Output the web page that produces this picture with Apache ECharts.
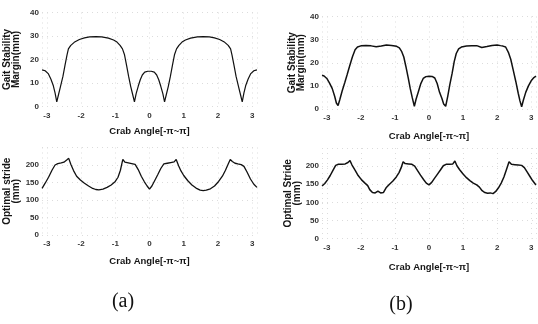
<!DOCTYPE html>
<html>
<head>
<meta charset="utf-8">
<script src="https://cdn.jsdelivr.net/npm/echarts@6/dist/echarts.min.js"></script>
<style>
  html, body { margin: 0; padding: 0; background: #fff; }
  #chart { width: 538px; height: 324px; }
</style>
</head>
<body>
<div id="chart"></div>
<script>
// (a) gait stability margin vs crab angle
var gaitAngleA = [-3.14,-3.05,-2.96,-2.88,-2.81,-2.76,-2.71,-2.66,-2.6,-2.53,-2.47,-2.41,-2.37,-2.3,-2.2,-2.05,-1.9,-1.75,-1.57,-1.4,-1.2,-1.05,-0.95,-0.86,-0.79,-0.73,-0.67,-0.61,-0.55,-0.49,-0.44,-0.39,-0.33,-0.27,-0.21,-0.14,-0.05,0.05,0.14,0.21,0.27,0.33,0.39,0.44,0.49,0.55,0.61,0.67,0.73,0.79,0.86,0.95,1.05,1.2,1.4,1.57,1.75,1.9,2.05,2.2,2.3,2.37,2.41,2.47,2.53,2.6,2.66,2.71,2.76,2.81,2.88,2.96,3.05,3.14];
var gaitMarginA = [15.6,15.2,14.0,11.6,8.8,5.8,2.0,5.0,8.6,12.8,17.5,22.0,24.5,26.0,27.3,28.5,29.2,29.6,29.7,29.6,29.1,28.3,27.4,26.0,24.5,22.0,17.5,12.8,8.6,5.0,2.0,5.5,8.6,11.4,13.4,14.6,15.0,15.0,14.6,13.4,11.4,8.6,5.5,2.0,5.0,8.6,12.8,17.5,22.0,24.5,26.0,27.4,28.3,29.1,29.6,29.7,29.6,29.2,28.5,27.3,26.0,24.5,22.0,17.5,12.8,8.6,5.0,2.0,5.8,8.8,11.6,14.0,15.2,15.6];

// (b) gait stability margin vs crab angle
var gaitAngleB = [-3.14,-3.08,-3.0,-2.92,-2.84,-2.77,-2.72,-2.67,-2.62,-2.55,-2.47,-2.4,-2.33,-2.25,-2.17,-2.1,-2.0,-1.85,-1.7,-1.55,-1.4,-1.25,-1.1,-0.95,-0.87,-0.8,-0.74,-0.68,-0.61,-0.55,-0.49,-0.43,-0.38,-0.31,-0.24,-0.17,-0.09,0,0.09,0.17,0.24,0.31,0.38,0.43,0.49,0.55,0.61,0.68,0.74,0.8,0.87,0.95,1.1,1.25,1.4,1.55,1.7,1.85,2.0,2.1,2.17,2.25,2.33,2.4,2.47,2.55,2.62,2.67,2.72,2.77,2.84,2.92,3.0,3.08,3.14];
var gaitMarginB = [14.6,14.3,13.2,11.2,8.8,5.5,2.6,1.5,4.0,7.8,11.6,15.0,18.6,22.5,25.6,26.8,27.3,27.5,27.3,26.9,27.2,27.7,27.5,27.1,26.4,24.8,22.5,18.5,13.5,8.8,4.8,1.2,4.2,7.6,11.0,13.2,14.0,14.2,14.1,13.4,11.0,7.2,4.5,2.2,1.2,5.5,10.4,15.5,20.5,24.0,26.0,26.8,27.2,27.3,27.4,26.6,27.0,27.5,27.7,27.4,27.2,26.8,24.5,21.5,17.0,11.8,6.8,3.5,1.0,3.8,7.2,10.0,12.2,13.6,14.2];

// (a) optimal stride vs crab angle
var strideAngleA = [-3.14,-3.05,-2.95,-2.85,-2.76,-2.68,-2.58,-2.5,-2.42,-2.36,-2.3,-2.22,-2.13,-2.02,-1.9,-1.78,-1.66,-1.57,-1.48,-1.36,-1.24,-1.12,-1.0,-0.92,-0.85,-0.78,-0.72,-0.62,-0.52,-0.42,-0.33,-0.24,-0.15,-0.07,0,0.07,0.15,0.24,0.33,0.42,0.52,0.62,0.72,0.78,0.85,0.92,1.0,1.12,1.24,1.36,1.48,1.57,1.66,1.78,1.9,2.02,2.13,2.22,2.3,2.36,2.42,2.5,2.58,2.68,2.76,2.85,2.95,3.05,3.14];
var strideA = [133,148,165,185,200,204,206,208,214,219,202,184,168,157,148,140,133,130,129,131,136,143,153,165,185,216,208,206,204,202,187,168,152,140,131,140,155,172,190,203,205,207,209,216,198,183,170,155,143,134,128,127,128,132,140,153,168,185,203,216,210,205,203,201,196,180,160,145,136];

// (b) optimal stride vs crab angle
var strideAngleB = [-3.14,-3.06,-2.98,-2.9,-2.82,-2.74,-2.66,-2.56,-2.46,-2.38,-2.32,-2.26,-2.18,-2.08,-1.98,-1.88,-1.8,-1.74,-1.66,-1.58,-1.5,-1.42,-1.34,-1.26,-1.16,-1.06,-0.96,-0.88,-0.82,-0.76,-0.7,-0.6,-0.5,-0.42,-0.34,-0.25,-0.16,-0.08,0,0.08,0.16,0.25,0.34,0.42,0.5,0.6,0.7,0.76,0.82,0.9,1.0,1.1,1.2,1.3,1.4,1.48,1.56,1.64,1.72,1.8,1.88,1.96,2.04,2.12,2.2,2.28,2.35,2.42,2.52,2.62,2.72,2.8,2.88,2.96,3.04,3.14];
var strideB = [145,152,162,174,188,202,205,205,206,210,215,203,190,174,162,153,146,135,127,126,131,126,127,140,150,159,170,182,195,212,207,206,205,200,188,175,163,153,148,155,166,178,190,201,205,205,206,214,201,190,178,168,160,153,148,142,132,127,125,126,124,130,140,153,170,192,212,205,204,203,202,196,184,172,160,148];

var gaitTicks = { min: 0, max: 40, interval: 10 };
var strideTicks = { min: 0, max: 250, interval: 50 };

function zip(xs, ys) {
  return xs.map(function (x, i) { return [x, ys[i]]; });
}

var FONT = '"Liberation Sans", Arial, sans-serif';
var textColor = '#151515';

function xAx(gridIndex, nameGap) {
  return {
    type: 'value',
    gridIndex: gridIndex,
    min: -Math.PI,
    max: Math.PI,
    splitNumber: 6,
    name: 'Crab Angle[-\u03c0~\u03c0]',
    nameLocation: 'middle',
    nameGap: nameGap,
    nameTextStyle: { fontFamily: FONT, fontWeight: 'bold', fontSize: 9.5, color: textColor },
    axisLine: { show: false },
    axisTick: { show: false },
    axisLabel: {
      showMinLabel: false, showMaxLabel: false,
      fontFamily: FONT, fontSize: 8, fontWeight: 'bold', color: '#333', margin: 5
    },
    splitLine: { show: true, lineStyle: { color: '#dcdcdc', type: [1, 4], width: 1 } }
  };
}

function yAx(gridIndex, ticks, name, nameGap) {
  return {
    type: 'value',
    gridIndex: gridIndex,
    min: ticks.min,
    max: ticks.max,
    interval: ticks.interval,
    name: name,
    nameLocation: 'middle',
    nameGap: nameGap,
    nameTextStyle: { fontFamily: FONT, fontWeight: 'bold', fontSize: 10, lineHeight: 8.5, color: textColor },
    axisLine: { show: false },
    axisTick: { show: false },
    axisLabel: {
      fontFamily: FONT, fontSize: 8, fontWeight: 'bold', color: '#333', margin: 3,
      formatter: function (v) { return v === 250 ? '' : v; }
    },
    splitLine: { show: true, lineStyle: { color: '#dcdcdc', type: [1, 4], width: 1 } }
  };
}

function lineSeries(idx, data, width) {
  return {
    type: 'line',
    xAxisIndex: idx,
    yAxisIndex: idx,
    data: data,
    showSymbol: false,
    symbol: 'none',
    lineStyle: { color: '#111', width: width },
    silent: true,
    animation: false
  };
}

var chart = echarts.init(document.getElementById('chart'), null, { renderer: 'canvas' });

var option = {
  backgroundColor: '#fff',
  animation: false,
  grid: [
    { left: 42, top: 12.5, width: 215, height: 94, outerBoundsMode: 'none' },
    { left: 322, top: 16.5, width: 214, height: 92.5, outerBoundsMode: 'none' },
    { left: 42, top: 147.5, width: 215, height: 87.5, outerBoundsMode: 'none' },
    { left: 322, top: 148, width: 214, height: 90.5, outerBoundsMode: 'none' }
  ],
  xAxis: [xAx(0, 20), xAx(1, 22), xAx(2, 21), xAx(3, 24)],
  yAxis: [
    yAx(0, gaitTicks, 'Gait Stability\nMargin(mm)', 22),
    yAx(1, gaitTicks, 'Gait Stability\nMargin(mm)', 14),
    yAx(2, strideTicks, 'Optimal stride\n(mm)', 22),
    yAx(3, strideTicks, 'Optimal Stride\n(mm)', 14)
  ],
  series: [
    lineSeries(0, zip(gaitAngleA, gaitMarginA), 1.2),
    lineSeries(1, zip(gaitAngleB, gaitMarginB), 1.5),
    lineSeries(2, zip(strideAngleA, strideA), 1.3),
    lineSeries(3, zip(strideAngleB, strideB), 1.5)
  ],
  graphic: [
    { type: 'text', x: 123, y: 302,
      style: { text: '(a)', font: '20px "Liberation Serif", "DejaVu Serif", serif', fill: '#111',
               align: 'center', verticalAlign: 'middle' } },
    { type: 'text', x: 401, y: 305,
      style: { text: '(b)', font: '20px "Liberation Serif", "DejaVu Serif", serif', fill: '#111',
               align: 'center', verticalAlign: 'middle' } }
  ]
};

chart.setOption(option);
</script>
</body>
</html>
